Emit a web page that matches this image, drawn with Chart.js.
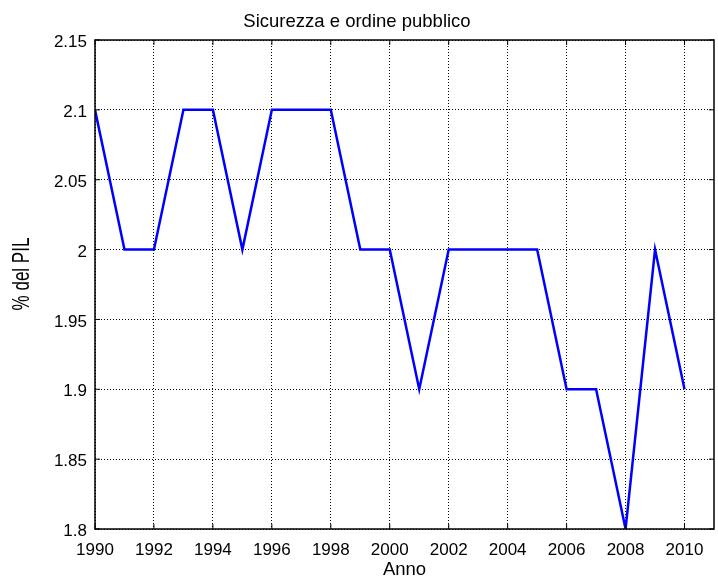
<!DOCTYPE html>
<html>
<head>
<meta charset="utf-8">
<script src="https://cdn.jsdelivr.net/npm/chart.js@4"></script>
<style>
    html, body { margin: 0; padding: 0; background: #fff; }
    #wrap { width: 718px; height: 579px; }
</style>
</head>
<body>
<div id="wrap"><canvas id="chart" width="718" height="579"></canvas></div>
<script>
// Data
const years = [1990, 1991, 1992, 1993, 1994, 1995, 1996, 1997, 1998, 1999, 2000,
               2001, 2002, 2003, 2004, 2005, 2006, 2007, 2008, 2009, 2010];
const pctPil = [2.1, 2.0, 2.0, 2.1, 2.1, 2.0, 2.1, 2.1, 2.1, 2.0, 2.0,
                1.9, 2.0, 2.0, 2.0, 2.0, 1.9, 1.9, 1.8, 2.0, 1.9];
const xTicks = [1990, 1992, 1994, 1996, 1998, 2000, 2002, 2004, 2006, 2008, 2010];
const yTicks = [1.8, 1.85, 1.9, 1.95, 2, 2.05, 2.1, 2.15];
const xRange = [1990, 2011];
const yRange = [1.8, 2.15];

const FONT = "'Liberation Sans', Arial, Helvetica, sans-serif";
const Y_TITLE = '% del PIL';

// MATLAB-like box with inward ticks, plus the stretched y label
const boxPlugin = {
    id: 'box',
    afterDraw(chart) {
        const { ctx, chartArea: a, scales } = chart;
        const len = 5;
        ctx.save();
        ctx.strokeStyle = '#000';
        ctx.lineWidth = 1;
        ctx.beginPath();
        scales.x.ticks.forEach(t => {
            const px = scales.x.getPixelForValue(t.value);
            ctx.moveTo(px, a.bottom); ctx.lineTo(px, a.bottom - len);
            ctx.moveTo(px, a.top); ctx.lineTo(px, a.top + len);
        });
        scales.y.ticks.forEach(t => {
            const py = scales.y.getPixelForValue(t.value);
            ctx.moveTo(a.left, py); ctx.lineTo(a.left + len, py);
            ctx.moveTo(a.right, py); ctx.lineTo(a.right - len, py);
        });
        ctx.stroke();
        ctx.lineWidth = 1.5;
        ctx.strokeRect(a.left, a.top, a.right - a.left, a.bottom - a.top);

        // y axis title (drawn tall and narrow like the original)
        ctx.translate(22, 274);
        ctx.rotate(-Math.PI / 2);
        ctx.scale(1, 1.45);
        ctx.fillStyle = '#000';
        ctx.font = '17px ' + FONT;
        ctx.textAlign = 'center';
        ctx.textBaseline = 'middle';
        ctx.fillText(Y_TITLE, 0, 0);
        ctx.restore();
    }
};

const ctx = document.getElementById('chart').getContext('2d');
new Chart(ctx, {
    type: 'line',
    data: {
        datasets: [{
            data: years.map((y, i) => ({ x: y, y: pctPil[i] })),
            borderColor: '#0000ff',
            borderWidth: 2.5,
            pointRadius: 0,
            tension: 0,
            fill: false
        }]
    },
    options: {
        responsive: false,
        animation: false,
        layout: { padding: { top: 0, right: 4, bottom: 0, left: 0 } },
        plugins: {
            legend: { display: false },
            tooltip: { enabled: false },
            title: {
                display: true,
                text: 'Sicurezza e ordine pubblico',
                color: '#000',
                font: { family: FONT, size: 18.5, weight: 'normal', lineHeight: 1.2 },
                padding: { top: 10.6, bottom: 7.2 }
            }
        },
        scales: {
            x: {
                type: 'linear',
                min: xRange[0],
                max: xRange[1],
                afterBuildTicks: scale => {
                    scale.ticks = xTicks.map(v => ({ value: v }));
                },
                afterFit: scale => { scale.height = 50; },
                ticks: {
                    color: '#000',
                    padding: 11,
                    maxRotation: 0,
                    autoSkip: false,
                    font: { family: FONT, size: 17 },
                    callback: v => String(v)
                },
                grid: {
                    color: '#000',
                    lineWidth: 1,
                    drawTicks: false
                },
                border: { display: false, dash: [1, 2] },
                title: {
                    display: true,
                    text: 'Anno',
                    color: '#000',
                    font: { family: FONT, size: 18.5, lineHeight: 1 },
                    padding: { top: 0, bottom: 0 }
                }
            },
            y: {
                min: yRange[0],
                max: yRange[1],
                afterBuildTicks: scale => {
                    scale.ticks = yTicks.map(v => ({ value: v }));
                },
                afterFit: scale => { scale.width = 95; },
                ticks: {
                    color: '#000',
                    padding: 8,
                    labelOffset: 2.5,
                    font: { family: FONT, size: 17 },
                    callback: v => String(Number(v.toFixed(2)))
                },
                grid: {
                    color: '#000',
                    lineWidth: 1,
                    drawTicks: false
                },
                border: { display: false, dash: [1, 2] },
                title: { display: false }
            }
        }
    },
    plugins: [boxPlugin]
});
</script>
</body>
</html>
